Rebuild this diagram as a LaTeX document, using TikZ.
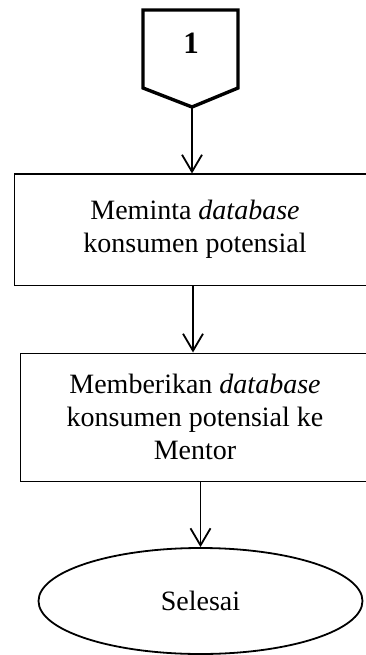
\documentclass[tikz,border=0pt]{standalone}
\usepackage{fontspec}
\setmainfont{Liberation Serif}
\usetikzlibrary{arrows.meta,shapes.geometric}
\begin{document}
\begin{tikzpicture}[x=1pt,y=-1pt,
  flowarrow/.style={line width=1.8pt,-{Straight Barb[length=17pt,width=20pt,line width=1.8pt]}},
  procbox/.style={draw,line width=1pt,rectangle,align=center,font=\fontsize{28}{33}\selectfont,inner sep=0pt},
  endnode/.style={draw,line width=1.8pt,ellipse,font=\fontsize{28}{33}\selectfont,inner sep=0pt}
]
\useasboundingbox (0,0) rectangle (366,655);
\coordinate (optl) at (143,10);
\coordinate (optr) at (238,10);
\coordinate (opbr) at (238,88);
\coordinate (optip) at (192,107);
\coordinate (opbl) at (143,88);
\draw[line width=3.4pt,line join=miter] (optl) -- (optr) -- (opbr) -- (optip) -- (opbl) -- cycle;
\node[font=\fontsize{31}{33}\selectfont\bfseries] (oplabel) at (191,43) {1};
\node[procbox,minimum width=362pt,minimum height=111pt] (box1) at (195,229.5) {Meminta \textit{database}\\konsumen potensial};
\node[procbox,minimum width=350pt,minimum height=128pt] (box2) at (195,417) {Memberikan \textit{database}\\konsumen potensial ke\\Mentor};
\node[endnode,minimum width=324pt,minimum height=106pt] (selesai) at (200.5,601) {Selesai};
\draw[flowarrow] (optip) -- (optip |- box1.north);
\coordinate (a2) at (193,0);
\draw[flowarrow] (a2 |- box1.south) -- (a2 |- box2.north);
\draw[flowarrow] (selesai.north |- box2.south) -- (selesai.north);
\end{tikzpicture}
\end{document}
